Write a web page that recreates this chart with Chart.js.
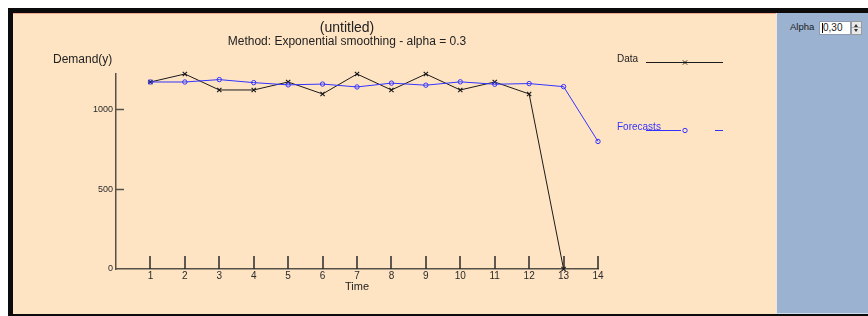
<!DOCTYPE html>
<html>
<head>
<meta charset="utf-8">
<script src="https://cdn.jsdelivr.net/npm/chart.js@4.4.1/dist/chart.umd.min.js"></script>
<style>
  html, body { margin: 0; padding: 0; background: #fff; }
  body { width: 868px; height: 316px; position: relative; overflow: hidden; font-family: "Liberation Sans", Arial, sans-serif; color: #222; }
  #frame { position: absolute; left: 8px; top: 8px; width: 860px; height: 308px; background: #0b0b0b; }
  #plot { position: absolute; left: 13px; top: 13px; width: 763px; height: 301px; background: #ffe4c4; border-top: 1px solid #f2a88e; box-sizing: border-box; }
  #side { position: absolute; left: 776px; top: 13px; width: 92px; height: 301px; background: #9bb3d1; border-left: 1px solid #ece6df; border-bottom: 1px solid #d3dbe6; box-sizing: border-box; }
  #chart { position: absolute; left: 13px; top: 14px; }
  .txt { position: absolute; white-space: nowrap; line-height: 1; }
  #title { left: 247px; width: 200px; top: 20px; text-align: center; font-size: 14px; }
  #subtitle { left: 197px; width: 300px; top: 35px; text-align: center; font-size: 12px; }
  #ylab { left: 53px; top: 53px; font-size: 12px; }
  #alpha { left: 790px; top: 22px; font-size: 9.5px; color: #1a1a1a; }
  #alphaBox { position: absolute; left: 819px; top: 21px; width: 32px; height: 14px; background: #fff; border: 1px solid #8c9bb0; box-sizing: border-box; font-size: 10px; line-height: 12px; padding-left: 3px; }
  #caret { position: absolute; left: 2px; top: 1px; width: 1px; height: 10px; background: #000; }
  #spin { position: absolute; left: 851px; top: 21px; width: 11px; height: 14px; background: #e9e9e9; border: 1px solid #9a9a9a; box-sizing: border-box; }
  #spin i { position: absolute; left: 2px; width: 0; height: 0; border-left: 2.5px solid transparent; border-right: 2.5px solid transparent; }
  #spin .up { top: 2px; border-bottom: 3px solid #333; }
  #spin .dn { top: 7px; border-top: 3px solid #333; }
  #spin .mid { position: absolute; left: 0; top: 5px; width: 9px; height: 1px; background: #b0b0b0; }
</style>
</head>
<body>
<div id="frame"></div>
<div id="plot"></div>
<div id="side"></div>
<canvas id="chart" width="763" height="300"></canvas>
<div class="txt" id="title">(untitled)</div>
<div class="txt" id="subtitle">Method: Exponential smoothing - alpha = 0.3</div>
<div class="txt" id="ylab">Demand(y)</div>
<div class="txt" id="alpha">Alpha</div>
<div id="alphaBox"><span id="caret"></span>0,30</div>
<div id="spin"><i class="up"></i><span class="mid"></span><i class="dn"></i></div>
<script>
// periods (Time) and the two series
const periods = [1, 2, 3, 4, 5, 6, 7, 8, 9, 10, 11, 12, 13, 14];
const demand = [1170, 1220, 1120, 1120, 1170, 1095, 1220, 1120, 1220, 1120, 1170, 1095, 0];
const forecasts = [1170, 1170, 1185, 1166, 1152, 1157, 1139, 1163, 1150, 1171, 1156, 1160, 1141, 798];
const yTicks = [0, 500, 1000];
const xTicks = periods;
const yMax = 1220;

const FONT = '"Liberation Sans", Arial, sans-serif';
const DATA_COLOR = '#1a1a1a';
const FC_COLOR = '#3333ff';
const AXIS_COLOR = '#555049';

const toPoints = (ys) => ys.map((y, i) => ({ x: periods[i], y }));

// tick marks pointing into the plot (the old applet draws them inside)
const innerTicks = {
  id: 'innerTicks',
  beforeDatasetsDraw(chart) {
    const { ctx, chartArea: a, scales: { x, y } } = chart;
    ctx.save();
    ctx.lineWidth = 1.5;
    ctx.strokeStyle = AXIS_COLOR;
    yTicks.filter((v) => v > 0).forEach((v) => {
      const py = Math.round(y.getPixelForValue(v)) + 0.5;
      ctx.beginPath(); ctx.moveTo(a.left, py); ctx.lineTo(a.left + 8, py); ctx.stroke();
    });
    ctx.strokeStyle = '#2a2a2a';
    xTicks.forEach((t) => {
      const px = Math.round(x.getPixelForValue(t));
      ctx.beginPath(); ctx.moveTo(px, a.bottom); ctx.lineTo(px, a.bottom - 13); ctx.stroke();
    });
    ctx.restore();
  },
};

// legend on the right, drawn like the original (line + marker)
const sideLegend = {
  id: 'sideLegend',
  afterDraw(chart) {
    const ctx = chart.ctx;
    ctx.save();
    ctx.font = '10px ' + FONT;
    ctx.textBaseline = 'middle';
    ctx.fillStyle = '#222';
    ctx.fillText('Data', 604, 45);
    ctx.strokeStyle = DATA_COLOR;
    ctx.lineWidth = 1;
    ctx.beginPath(); ctx.moveTo(633, 48.5); ctx.lineTo(710, 48.5); ctx.stroke();
    Chart.helpers.drawPoint(ctx, { pointStyle: 'crossRot', radius: 3, borderWidth: 1 }, 672, 48.5);

    ctx.fillStyle = FC_COLOR;
    ctx.fillText('Forecasts', 604, 113);
    ctx.strokeStyle = FC_COLOR;
    ctx.beginPath(); ctx.moveTo(633, 116.5); ctx.lineTo(668, 116.5); ctx.stroke();
    ctx.beginPath(); ctx.moveTo(702, 116.5); ctx.lineTo(710, 116.5); ctx.stroke();
    ctx.fillStyle = 'rgba(0,0,0,0)';
    Chart.helpers.drawPoint(ctx, { pointStyle: 'circle', radius: 2.2, borderWidth: 1 }, 672, 116.5);
    ctx.restore();
  },
};

new Chart(document.getElementById('chart'), {
  type: 'line',
  data: {
    datasets: [
      {
        label: 'Forecasts',
        data: toPoints(forecasts),
        borderColor: FC_COLOR,
        borderWidth: 1,
        pointStyle: 'circle',
        pointRadius: 2.2,
        pointBorderWidth: 1,
        pointBorderColor: FC_COLOR,
        pointBackgroundColor: 'rgba(0,0,0,0)',
        tension: 0,
        clip: false,
      },
      {
        label: 'Data',
        data: toPoints(demand),
        borderColor: DATA_COLOR,
        borderWidth: 1,
        pointStyle: 'crossRot',
        pointRadius: 3,
        pointBorderWidth: 1.2,
        pointBorderColor: DATA_COLOR,
        tension: 0,
        clip: false,
      },
    ],
  },
  options: {
    responsive: false,
    animation: false,
    devicePixelRatio: 1,
    layout: { padding: { top: 60, right: 178, left: 0, bottom: 0 } },
    plugins: { legend: { display: false }, tooltip: { enabled: false }, title: { display: false } },
    scales: {
      x: {
        type: 'linear',
        min: 0,
        max: 14,
        afterBuildTicks: (s) => { s.ticks = xTicks.map((v) => ({ value: v })); },
        afterFit: (s) => { s.height = 45; },
        grid: { display: true, drawOnChartArea: false, drawTicks: false },
        border: { color: AXIS_COLOR, width: 1.5 },
        ticks: { color: '#2a2a2a', font: { size: 10, family: FONT }, padding: 1, maxRotation: 0, autoSkip: false,
                 callback: (v) => String(v) },
        title: { display: true, text: 'Time', color: '#222', font: { size: 11, family: FONT }, padding: { top: 0, bottom: 20 } },
      },
      y: {
        type: 'linear',
        min: 0,
        max: yMax,
        afterBuildTicks: (s) => { s.ticks = yTicks.map((v) => ({ value: v })); },
        afterFit: (s) => { s.width = 103; },
        grid: { display: true, drawOnChartArea: false, drawTicks: false },
        border: { color: AXIS_COLOR, width: 1.5 },
        ticks: { color: '#2a2a2a', font: { size: 9, family: FONT }, padding: 3, callback: (v) => String(v) },
      },
    },
  },
  plugins: [innerTicks, sideLegend],
});
</script>
</body>
</html>
